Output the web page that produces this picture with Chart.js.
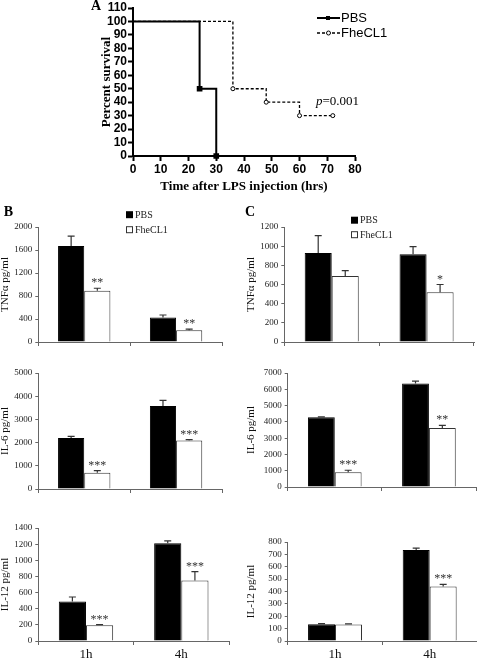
<!DOCTYPE html>
<html><head><meta charset="utf-8">
<script src="https://cdn.jsdelivr.net/npm/chart.js@4.4.1/dist/chart.umd.min.js"></script>
<style>
html,body{margin:0;padding:0;background:#fff;width:477px;height:661px;overflow:hidden;position:relative}
canvas{position:absolute}
</style></head><body>
<script>
// ---------- Panel A: survival ----------
const survivalSeries = ['PBS', 'FheCL1'];
const pbsHours = [0, 24, 30];
const pbsSurvival = [100, 50, 0];
const fheHours = [0, 36, 48, 60, 72];
const fheSurvival = [100, 50, 40, 30, 30];
const pValueText = '=0.001';

// ---------- Panels B and C: cytokines ----------
const timeLabels = ['1h', '4h'];
const barSeries = ['PBS', 'FheCL1'];

const bTnfPbs = [1670, 425];   const bTnfPbsErr = [170, 45];
const bTnfFhe = [890, 205];    const bTnfFheErr = [45, 20];
const bTnfStars = ['**', '**'];

const bIl6Pbs = [2200, 3580];  const bIl6PbsErr = [70, 240];
const bIl6Fhe = [700, 2090];   const bIl6FheErr = [90, 40];
const bIl6Stars = ['***', '***'];

const bIl12Pbs = [490, 1210];  const bIl12PbsErr = [55, 30];
const bIl12Fhe = [195, 750];   const bIl12FheErr = [8, 110];
const bIl12Stars = ['***', '***'];

const cTnfPbs = [930, 915];    const cTnfPbsErr = [180, 80];
const cTnfFhe = [690, 520];    const cTnfFheErr = [55, 80];
const cTnfStars = ['', '*'];

const cIl6Pbs = [4280, 6350];  const cIl6PbsErr = [30, 150];
const cIl6Fhe = [900, 3620];   const cIl6FheErr = [130, 160];
const cIl6Stars = ['***', '**'];

const cIl12Pbs = [135, 735];   const cIl12PbsErr = [5, 15];
const cIl12Fhe = [133, 440];   const cIl12FheErr = [5, 18];
const cIl12Stars = ['', '***'];

// ---------- setup ----------
Chart.defaults.font.family = "'Liberation Serif', 'Times New Roman', serif";
Chart.defaults.color = '#222';
Chart.defaults.animation = false;
Chart.defaults.responsive = false;
Chart.defaults.devicePixelRatio = 1;

function makeCanvas(left, top, w, h) {
  const c = document.createElement('canvas');
  c.width = Math.round(w); c.height = Math.round(h);
  c.style.left = left + 'px'; c.style.top = top + 'px';
  c.style.width = Math.round(w) + 'px'; c.style.height = Math.round(h) + 'px';
  document.body.appendChild(c);
  return c;
}
const plainNumber = v => String(v);

// ---------- Survival chart ----------
const survivalExtras = {
  id: 'survivalExtras',
  afterDraw(chart) {
    const ctx = chart.ctx;
    ctx.save();
    ctx.fillStyle = '#000';
    ctx.font = "bold 14px 'Liberation Serif'";
    ctx.textAlign = 'center'; ctx.textBaseline = 'middle';
    ctx.fillText('A', 96, 6.5);
    ctx.strokeStyle = '#000';
    ctx.lineWidth = 2; ctx.setLineDash([]);
    ctx.beginPath(); ctx.moveTo(317, 18); ctx.lineTo(340, 18); ctx.stroke();
    ctx.fillRect(326, 16, 4, 4);
    ctx.lineWidth = 1.3; ctx.setLineDash([3, 2]);
    ctx.beginPath(); ctx.moveTo(317, 33); ctx.lineTo(340, 33); ctx.stroke();
    ctx.setLineDash([]);
    ctx.fillStyle = '#fff'; ctx.lineWidth = 1;
    ctx.beginPath(); ctx.arc(328.5, 33, 2, 0, Math.PI * 2); ctx.fill(); ctx.stroke();
    ctx.fillStyle = '#000';
    ctx.font = "13px 'Liberation Sans'";
    ctx.textAlign = 'left';
    ctx.fillText(survivalSeries[0], 341, 18.5);
    ctx.fillText(survivalSeries[1], 341, 33.5);
    ctx.font = "italic 13px 'Liberation Serif'";
    ctx.fillText('p', 316, 101.5);
    const pw = ctx.measureText('p').width;
    ctx.font = "13px 'Liberation Serif'";
    ctx.fillText(pValueText, 316 + pw, 101.5);
    ctx.restore();
  }
};

(function () {
  const cv = makeCanvas(0, 0, 477, 194);
  const axisFontTick = { family: 'Liberation Sans', weight: 'bold', size: 12 };
  const titleFont = { family: 'Liberation Serif', weight: 'bold', size: 13, lineHeight: 1.2 };
  new Chart(cv, {
    type: 'line',
    data: {
      datasets: [
        {
          label: survivalSeries[0],
          data: pbsHours.map((h, i) => ({ x: h, y: pbsSurvival[i] })),
          stepped: true, borderColor: '#000', borderWidth: 2, fill: false,
          pointStyle: 'rect', pointRadius: pbsHours.map((h, i) => i === 0 ? 0 : 2.6),
          pointBackgroundColor: '#000', pointBorderColor: '#000', clip: false
        },
        {
          label: survivalSeries[1],
          data: fheHours.map((h, i) => ({ x: h, y: fheSurvival[i] })),
          stepped: true, borderColor: '#000', borderWidth: 1.3, borderDash: [3, 2], fill: false,
          pointStyle: 'circle', pointRadius: fheHours.map((h, i) => i === 0 ? 0 : 2),
          pointBackgroundColor: '#fff', pointBorderColor: '#000', pointBorderWidth: 1, clip: false
        }
      ]
    },
    options: {
      layout: { padding: { left: 99, right: 122, top: 8, bottom: 0 } },
      plugins: { legend: { display: false }, tooltip: { enabled: false } },
      scales: {
        x: {
          type: 'linear', min: 0, max: 80,
          ticks: { stepSize: 10, autoSkip: false, maxRotation: 0, font: axisFontTick, color: '#000', padding: 1, callback: plainNumber },
          grid: { drawOnChartArea: false, tickLength: 5, tickWidth: 2, color: '#000' },
          border: { color: '#000', width: 2 },
          title: { display: true, text: 'Time after LPS injection (hrs)', font: titleFont, padding: 0, color: '#000' },
          afterFit(s) { s.height = 38; s.paddingLeft = 0; s.paddingRight = 0; }
        },
        y: {
          min: 0, max: 110,
          ticks: { stepSize: 10, autoSkip: false, font: axisFontTick, color: '#000', padding: 1, callback: plainNumber },
          grid: { drawOnChartArea: false, tickLength: 5, tickWidth: 2, color: '#000' },
          border: { color: '#000', width: 2 },
          title: { display: true, text: 'Percent survival', font: titleFont, padding: 0, color: '#000' },
          afterFit(s) { s.width = 34; s.paddingTop = 0; s.paddingBottom = 0; }
        }
      }
    },
    plugins: [survivalExtras]
  });
})();

// ---------- Bar charts ----------
const errorBars = {
  id: 'errorBars',
  afterDatasetsDraw(chart) {
    const ctx = chart.ctx, ys = chart.scales.y;
    chart.data.datasets.forEach((ds, di) => {
      const meta = chart.getDatasetMeta(di);
      meta.data.forEach((bar, i) => {
        const v = ds.data[i], e = ds.errors[i];
        const y0 = ys.getPixelForValue(v), y1 = ys.getPixelForValue(v + e);
        ctx.save();
        ctx.strokeStyle = '#333'; ctx.lineWidth = 1.2;
        ctx.beginPath();
        ctx.moveTo(bar.x, y0); ctx.lineTo(bar.x, y1);
        ctx.moveTo(bar.x - 3.5, y1); ctx.lineTo(bar.x + 3.5, y1);
        ctx.stroke();
        if (ds.stars && ds.stars[i]) {
          ctx.fillStyle = '#333';
          ctx.font = "12px 'Liberation Serif'";
          ctx.textAlign = 'center'; ctx.textBaseline = 'alphabetic';
          ctx.fillText(ds.stars[i], bar.x, y1 - 2);
        }
        ctx.restore();
      });
    });
  }
};

function barChart(o) {
  const xH = o.showX ? 24 : 6;
  const pr = 3;
  const cLeft = o.canvasLeft, cTop = o.chartTop - o.extraTop;
  const w = o.chartRight + pr - cLeft;
  const h = o.chartBottom - o.chartTop + o.extraTop + xH;
  const cv = makeCanvas(cLeft, cTop, w, h);
  const extras = {
    id: 'extras',
    afterDraw(chart) {
      if (!o.legend) return;
      const ctx = chart.ctx;
      ctx.save();
      ctx.translate(-cLeft, -cTop);
      ctx.fillStyle = '#000';
      ctx.font = "bold 14px 'Liberation Serif'";
      ctx.textAlign = 'center'; ctx.textBaseline = 'middle';
      ctx.fillText(o.letter, o.letterX, o.letterY);
      const L = o.legend;
      ctx.fillRect(L.x, L.y1 - 3.5, 7, 7);
      ctx.strokeStyle = '#333'; ctx.lineWidth = 1;
      ctx.strokeRect(L.x + 0.5, L.y2 - 3, 6, 6);
      ctx.fillStyle = '#222';
      ctx.font = "10px 'Liberation Serif'";
      ctx.textAlign = 'left';
      ctx.fillText(barSeries[0], L.x + 9, L.y1 + 0.5);
      ctx.fillText(barSeries[1], L.x + 9, L.y2 + 0.5);
      ctx.restore();
    }
  };
  new Chart(cv, {
    type: 'bar',
    data: {
      labels: timeLabels,
      datasets: [
        { label: barSeries[0], data: o.pbs, errors: o.pbsErr, backgroundColor: '#000', borderColor: '#000', borderWidth: 1,
          categoryPercentage: 0.57, barPercentage: 1 },
        { label: barSeries[1], data: o.fhe, errors: o.fheErr, stars: o.stars, backgroundColor: '#fff', borderColor: '#333', borderWidth: 1,
          categoryPercentage: 0.57, barPercentage: 1 }
      ]
    },
    options: {
      layout: { padding: { left: o.scaleLeft - cLeft, right: pr, top: o.extraTop, bottom: 0 } },
      plugins: { legend: { display: false }, tooltip: { enabled: false } },
      scales: {
        x: {
          ticks: { display: !!o.showX, font: { size: 13, family: 'Liberation Serif' }, color: '#111', padding: 2 },
          grid: { drawOnChartArea: false, tickLength: 4, color: '#666' },
          border: { color: '#666', width: 1 },
          afterFit(s) { s.height = xH; s.paddingLeft = 0; s.paddingRight = 0; }
        },
        y: {
          min: 0, max: o.max,
          ticks: { stepSize: o.step, autoSkip: false, font: { size: 9, family: 'Liberation Serif' }, color: '#222', padding: 3, callback: plainNumber },
          grid: { drawOnChartArea: false, tickLength: 3, color: '#666' },
          border: { color: '#666', width: 1 },
          title: { display: true, text: o.title, font: { size: 11, family: 'Liberation Serif', lineHeight: 1 }, padding: 0, color: '#111' },
          afterFit(s) { s.width = o.chartLeft - o.scaleLeft; s.paddingTop = 0; s.paddingBottom = 0; }
        }
      }
    },
    plugins: [errorBars, extras]
  });
}

// Panel B
barChart({ canvasLeft: 0, scaleLeft: 0, chartLeft: 38.3, chartRight: 222, chartTop: 227.3, chartBottom: 342, extraTop: 36,
  title: 'TNFα pg/ml', max: 2000, step: 400, pbs: bTnfPbs, pbsErr: bTnfPbsErr, fhe: bTnfFhe, fheErr: bTnfFheErr, stars: bTnfStars,
  letter: 'B', letterX: 8.5, letterY: 212.5, legend: { x: 126, y1: 215, y2: 230 } });
barChart({ canvasLeft: 0, scaleLeft: 0, chartLeft: 38.3, chartRight: 221.7, chartTop: 372.7, chartBottom: 488.3, extraTop: 12,
  title: 'IL-6 pg/ml', max: 5000, step: 1000, pbs: bIl6Pbs, pbsErr: bIl6PbsErr, fhe: bIl6Fhe, fheErr: bIl6FheErr, stars: bIl6Stars });
barChart({ canvasLeft: 0, scaleLeft: 0, chartLeft: 38.3, chartRight: 229, chartTop: 528.3, chartBottom: 641.3, extraTop: 12, showX: true,
  title: 'IL-12 pg/ml', max: 1400, step: 200, pbs: bIl12Pbs, pbsErr: bIl12PbsErr, fhe: bIl12Fhe, fheErr: bIl12FheErr, stars: bIl12Stars });

// Panel C
barChart({ canvasLeft: 240, scaleLeft: 246, chartLeft: 284.3, chartRight: 474, chartTop: 227.3, chartBottom: 342, extraTop: 36,
  title: 'TNFα pg/ml', max: 1200, step: 200, pbs: cTnfPbs, pbsErr: cTnfPbsErr, fhe: cTnfFhe, fheErr: cTnfFheErr, stars: cTnfStars,
  letter: 'C', letterX: 250, letterY: 212.5, legend: { x: 351, y1: 220.5, y2: 235 } });
barChart({ canvasLeft: 240, scaleLeft: 246, chartLeft: 287.7, chartRight: 476.3, chartTop: 373.3, chartBottom: 487.3, extraTop: 12,
  title: 'IL-6 pg/ml', max: 7000, step: 1000, pbs: cIl6Pbs, pbsErr: cIl6PbsErr, fhe: cIl6Fhe, fheErr: cIl6FheErr, stars: cIl6Stars });
barChart({ canvasLeft: 240, scaleLeft: 246, chartLeft: 287.7, chartRight: 476.7, chartTop: 542.3, chartBottom: 641, extraTop: 12, showX: true,
  title: 'IL-12 pg/ml', max: 800, step: 100, pbs: cIl12Pbs, pbsErr: cIl12PbsErr, fhe: cIl12Fhe, fheErr: cIl12FheErr, stars: cIl12Stars });
</script>
</body></html>
